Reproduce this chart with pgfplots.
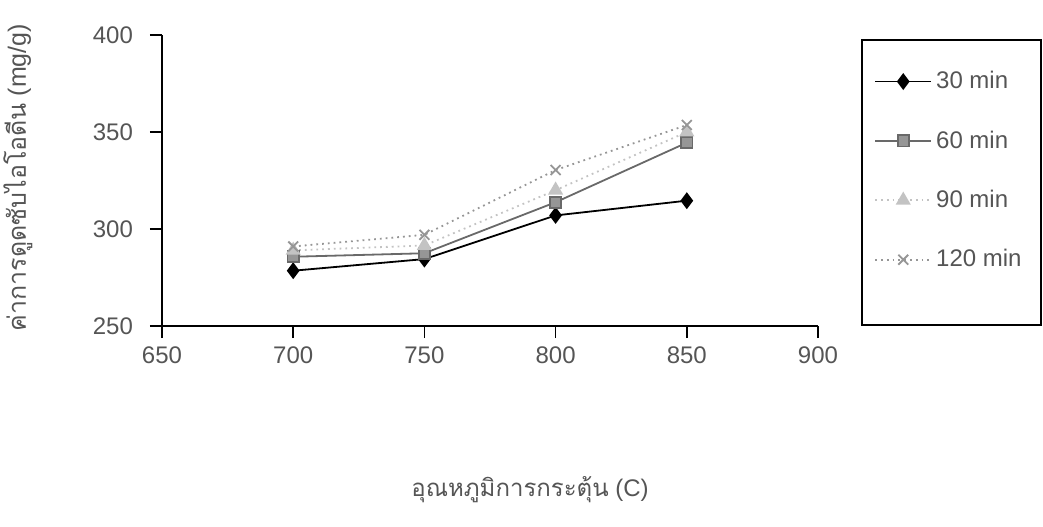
\documentclass[border=0pt]{standalone}
\usepackage{fontspec}
\setmainfont{Liberation Sans}
\newfontfamily\thaifont[Script=Thai]{Loma}
\usepackage{pgfplots}
\pgfplotsset{compat=1.18}
\definecolor{txt}{RGB}{85,85,85}
\definecolor{sixty}{RGB}{105,105,105}
\definecolor{ninety}{RGB}{195,195,195}
\definecolor{onetwenty}{RGB}{150,150,150}
\begin{document}
\begin{tikzpicture}[x=1pt,y=1pt]
\useasboundingbox (-81,-100) rectangle (440.5,163);
\begin{axis}[
  at={(0,0)}, anchor=south west,
  scale only axis, width=328pt, height=145.5pt,
  xmin=650, xmax=900, ymin=250, ymax=400,
  xtick={650,700,750,800,850,900},
  ytick={250,300,350,400},
  axis x line*=bottom, axis y line*=left,
  axis line style={black, line width=0.8pt, -},
  tick align=outside, major tick length=6pt,
  tick style={black, line width=0.7pt},
  /pgf/number format/assume math mode=true,
  /pgf/number format/1000 sep={},
  ticklabel style={font=\fontsize{12}{14}\selectfont, text=txt},
  xticklabel style={yshift=-1pt},
  yticklabel style={xshift=-5pt},
  xlabel={{\thaifont อุณหภูมิการกระตุ้น} (C)},
  xlabel style={at={(rel axis cs:0.561,0)}, anchor=center, yshift=-82pt,
    font=\fontsize{12}{14}\selectfont, text=txt},
  ylabel={{\thaifont ค่าการดูดซับไอโอดีน} (mg/g)},
  ylabel style={at={(rel axis cs:0,0.51)}, anchor=center, yshift=72pt,
    font=\fontsize{12.5}{14}\selectfont, text=txt},
  legend style={at={(rel axis cs:1.067,0.983)}, anchor=north west,
    draw=none, fill=none, font=\fontsize{12}{14}\selectfont,
    text=txt, row sep=15.5pt, inner xsep=6pt, inner ysep=13.5pt},
  legend cell align=left,
  legend image code/.code={\draw[mark repeat=2,mark phase=2]
    plot coordinates {(0pt,0pt) (14pt,0pt) (28pt,0pt)};},
]
\addplot[black, line width=0.9pt, mark=diamond*, mark size=3.5pt,
  mark options={solid, fill=black}]
  coordinates {(700,278.5) (750,284.5) (800,307) (850,314.6)};
\addlegendentry{30 min}
\addplot[sixty, line width=0.9pt, mark=square*, mark size=2.8pt,
  mark options={solid, fill=sixty!70}]
  coordinates {(700,285.7) (750,287.5) (800,313.8) (850,344.5)};
\addlegendentry{60 min}
\addplot[ninety, line width=0.9pt, dotted, mark=triangle*, mark size=3.5pt,
  mark options={solid, fill=ninety}]
  coordinates {(700,289) (750,291.5) (800,320) (850,350)};
\addlegendentry{90 min}
\addplot[onetwenty, line width=0.9pt, dotted, mark=x, mark size=3.5pt,
  mark options={solid}]
  coordinates {(700,291) (750,297) (800,330.4) (850,353.6)};
\addlegendentry{120 min}
\end{axis}
\draw[black, line width=0.8pt] (350,143) rectangle (439.5,0.5);
\end{tikzpicture}
\end{document}
